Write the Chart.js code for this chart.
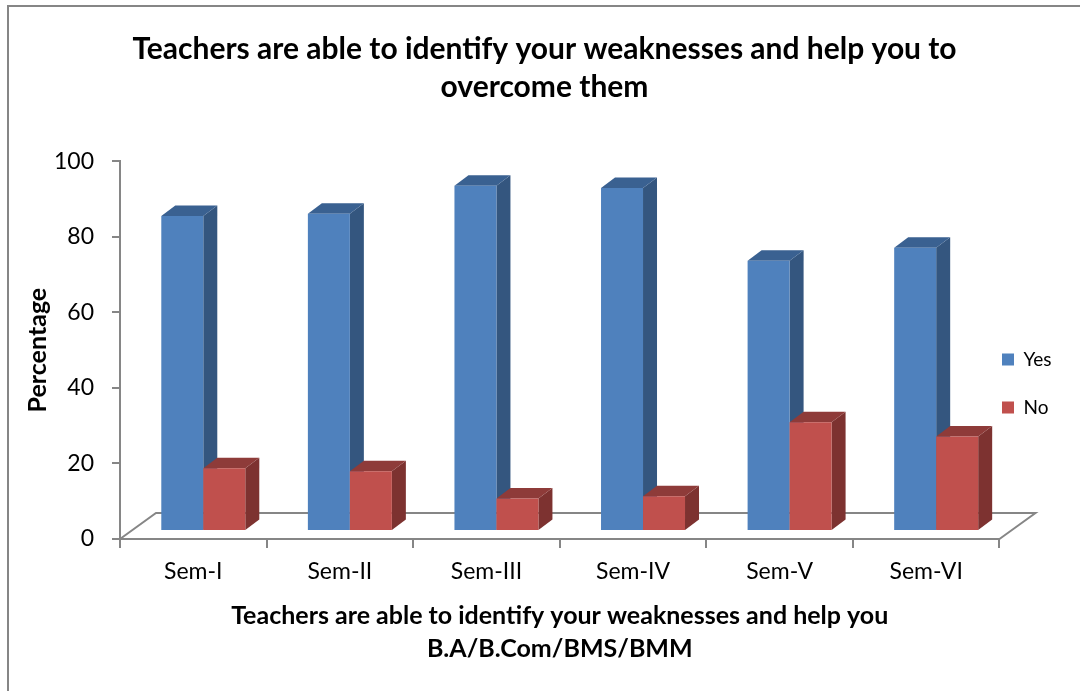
<!DOCTYPE html>
<html>
<head>
<meta charset="utf-8">
<script src="https://cdn.jsdelivr.net/npm/chart.js@4"></script>
<style>
  html, body { margin: 0; padding: 0; background: #fff; overflow: hidden; }
  #frame { position: absolute; left: 7px; top: 5px; width: 1080px; height: 700px; border: 2px solid #868686; }
  #goo { position: absolute; left: 0; top: 0; }
</style>
</head>
<body>
<div id="frame"></div>
<canvas id="goo" width="1080" height="691"></canvas>
<script>
const categories = ['Sem-I', 'Sem-II', 'Sem-III', 'Sem-IV', 'Sem-V', 'Sem-VI'];
const yesValues = [83.4, 84, 91.4, 90.8, 71.5, 75];
const noValues = [16.6, 15.8, 8.6, 9.2, 28.8, 25];
const titleLines = ['Teachers are able to identify your weaknesses and help you to', 'overcome them'];
const xTitleLines = ['Teachers are able to identify your weaknesses and help you', 'B.A/B.Com/BMS/BMM'];

const FONT = 'Lato';
const AXIS = '#868686';

// sides of each bar, dark blue then dark red
const sideColors = ['#34567f', '#7d3230'];
const topColors = ['#3a6191', '#8e3b39'];

// draws the floor, then each bar with its depth faces so the overlap is left to right
const bars3d = {
    id: 'bars3d',
    afterLayout(chart) {
        // legend sits over the floor corner, not beside the plot
        let lg = chart.legend;
        let dx = 973 - lg.left;
        lg.left += dx;
        lg.right += dx;
        lg.top = 321;
    },
    beforeDatasetsDraw(chart) {
        let ctx = chart.ctx;
        let a = chart.chartArea;

        ctx.save();
        ctx.strokeStyle = AXIS;
        ctx.lineWidth = 2;
        ctx.beginPath();
        ctx.moveTo(a.left, a.bottom);
        ctx.lineTo(a.left + 36, a.bottom - 26);
        ctx.lineTo(a.right + 36, a.bottom - 26);
        ctx.lineTo(a.right, a.bottom);
        ctx.stroke();

        ctx.translate(10, -8);
        let ddx = 14, ddy = -10.5;
        for (let c = 0; c < categories.length; c++) {
            for (let d = 0; d < chart.data.datasets.length; d++) {
                let bar = chart.getDatasetMeta(d).data[c];
                let w = bar.width / 2;
                let l = bar.x - w, r = bar.x + w, t = bar.y, b = bar.base;

                ctx.fillStyle = sideColors[d];
                ctx.beginPath();
                ctx.moveTo(r, t);
                ctx.lineTo(r + ddx, t + ddy);
                ctx.lineTo(r + ddx, b + ddy);
                ctx.lineTo(r, b);
                ctx.closePath();
                ctx.fill();

                ctx.fillStyle = topColors[d];
                ctx.beginPath();
                ctx.moveTo(l, t);
                ctx.lineTo(l + ddx, t + ddy);
                ctx.lineTo(r + ddx, t + ddy);
                ctx.lineTo(r, t);
                ctx.closePath();
                ctx.fill();

                bar.draw(ctx);
            }
        }
        ctx.restore();
        return false;
    }
};

new Chart(document.getElementById('goo').getContext('2d'), {
    type: 'bar',
    data: {
        labels: categories,
        datasets: [
            { label: 'Yes', data: yesValues, backgroundColor: '#4f81bd' },
            { label: 'No', data: noValues, backgroundColor: '#c0504d' }
        ]
    },
    options: {
        responsive: false,
        animation: false,
        events: [],
        categoryPercentage: 0.573,
        barPercentage: 1,
        layout: { padding: { left: 1, right: -8, top: 0, bottom: 24 } },
        plugins: {
            title: {
                display: true,
                text: titleLines,
                color: '#000',
                font: { family: FONT, size: 30, weight: 'bold', lineHeight: 1.27 },
                padding: { top: 30, bottom: 55 }
            },
            legend: {
                position: 'right',
                align: 'start',
                labels: {
                    color: '#000',
                    font: { family: FONT, size: 19 },
                    boxWidth: 12,
                    boxHeight: 12,
                    padding: 29
                }
            },
            tooltip: { enabled: false }
        },
        scales: {
            x: {
                afterFit(scale) { scale.height = 128; },
                border: { color: AXIS, width: 2 },
                grid: { drawOnChartArea: false, color: AXIS, lineWidth: 2, tickLength: 9, tickColor: AXIS },
                ticks: { color: '#000', font: { family: FONT, size: 23 }, padding: 10, maxRotation: 0 },
                title: {
                    display: true,
                    text: xTitleLines,
                    color: '#000',
                    font: { family: FONT, size: 25, weight: 'bold', lineHeight: 1.32 },
                    padding: { top: 12, bottom: 2 }
                }
            },
            y: {
                min: 0,
                max: 100,
                afterFit(scale) { scale.width = 119; },
                border: { color: AXIS, width: 2 },
                grid: { drawOnChartArea: false, color: AXIS, lineWidth: 2, tickLength: 8, tickColor: AXIS },
                ticks: { stepSize: 20, color: '#000', font: { family: FONT, size: 23 }, padding: 18 },
                title: {
                    display: true,
                    text: 'Percentage',
                    color: '#000',
                    font: { family: FONT, size: 25, weight: 'bold' },
                    padding: { top: 22, bottom: 0 }
                }
            }
        }
    },
    plugins: [bars3d]
});
</script>
</body>
</html>
